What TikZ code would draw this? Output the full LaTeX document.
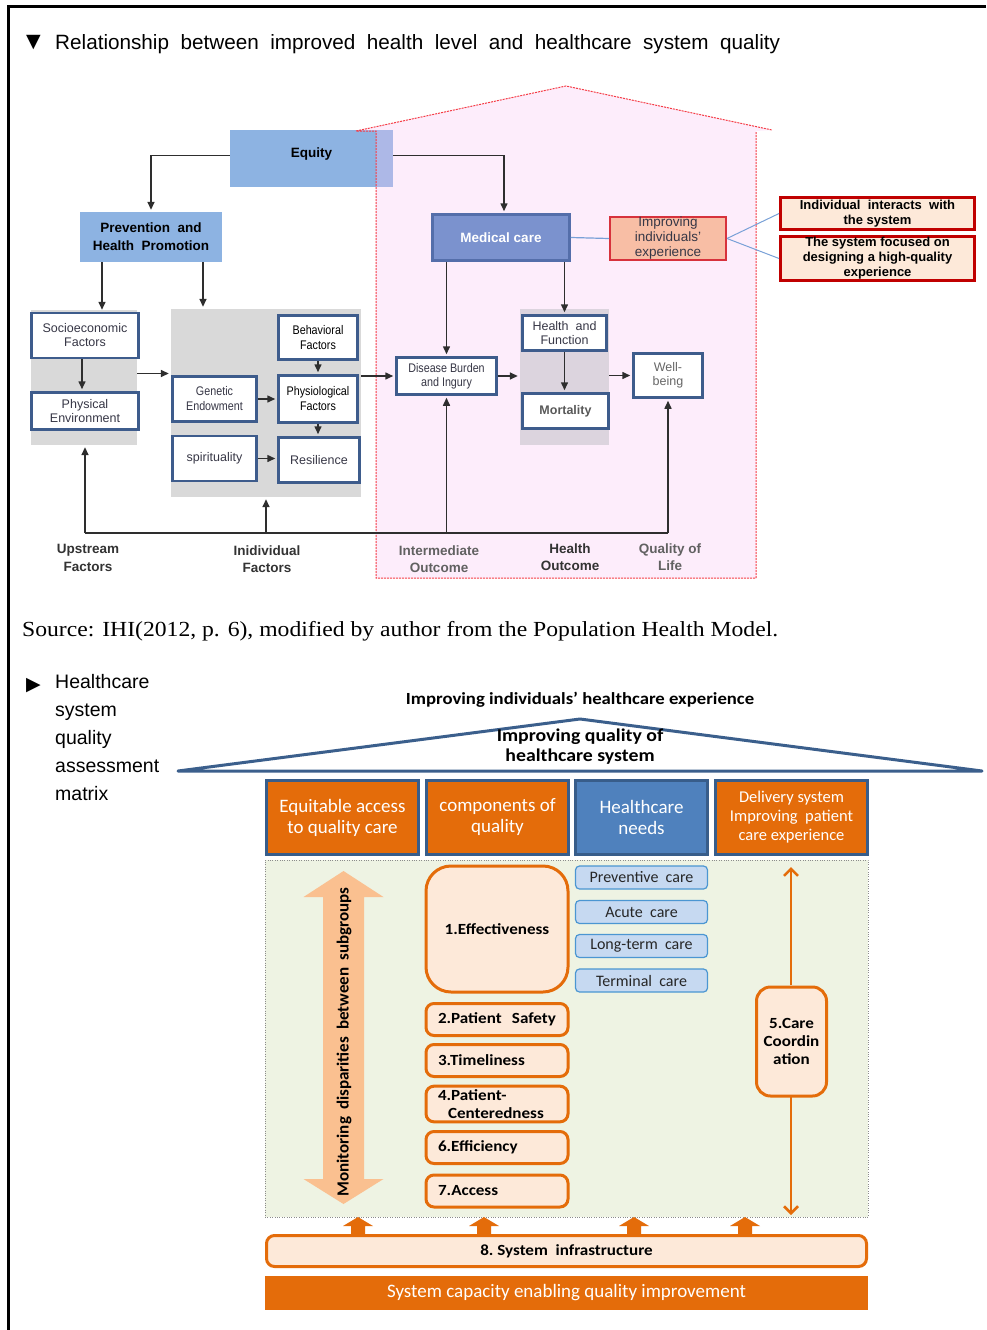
\documentclass[tikz,border=0pt]{standalone}
\usepackage{fontspec}
\setmainfont{Liberation Sans}
\newfontfamily\srcfont[FakeStretch=1.1]{Liberation Serif}
\newfontfamily\calfont{Carlito}
\newfontfamily\calwide[FakeStretch=1.1]{Carlito}
\newfontfamily\symfont{DejaVu Sans}
\newfontfamily\narrowfont[FakeStretch=0.86]{Liberation Sans}
\usetikzlibrary{arrows.meta,calc,positioning}

\definecolor{eqblue}{RGB}{141,179,226}
\definecolor{medblue}{RGB}{123,146,206}
\definecolor{medline}{RGB}{84,110,170}
\definecolor{boxline}{RGB}{62,92,140}
\definecolor{panelgray}{RGB}{217,217,217}
\definecolor{hpanelgray}{RGB}{220,212,222}
\definecolor{housepink}{RGB}{250,196,245}
\definecolor{housered}{RGB}{245,60,70}
\definecolor{salmon}{RGB}{248,190,165}
\definecolor{imprline}{RGB}{215,50,60}
\definecolor{peach}{RGB}{253,233,217}
\definecolor{darkred}{RGB}{192,0,0}
\definecolor{thinblue}{RGB}{120,160,215}
\definecolor{txtgray}{RGB}{55,55,70}
\definecolor{qorange}{RGB}{228,108,10}
\definecolor{lorange}{RGB}{250,192,144}
\definecolor{hdrblue}{RGB}{79,129,189}
\definecolor{hdrline}{RGB}{56,93,138}
\definecolor{needfill}{RGB}{198,217,241}
\definecolor{needline}{RGB}{75,150,210}
\definecolor{matgreen}{RGB}{238,243,227}
\definecolor{roofblue}{RGB}{59,95,140}

\tikzset{
  whitebox/.style={draw=boxline, line width=2.5pt, fill=white, inner sep=1pt, align=center,
    text=txtgray, font=\fontsize{12.5}{14}\selectfont},
  narrowbox/.style={whitebox, text=black, font=\narrowfont\fontsize{12.5}{15}\selectfont},
  panel/.style={fill=panelgray, inner sep=0pt},
  arr/.style={-{Triangle[length=8pt,width=7pt]}, line width=1.5pt, draw=black!82, shorten >=2pt},
  steplabel/.style={align=center, text=black!80, font=\bfseries\fontsize{13.5}{17.5}\selectfont},
  redbox/.style={fill=peach, draw=darkred, line width=3pt, minimum width=194pt, align=center,
    inner sep=1pt, font=\bfseries\fontsize{13}{15}\selectfont},
  hdrbox/.style={draw=hdrline, line width=3pt, fill=qorange, text=white, align=center,
    minimum width=152pt, minimum height=74pt, font=\calfont\fontsize{19}{21}\selectfont},
  qbox/.style={draw=qorange, fill=peach, line width=3pt, rounded corners=8pt, minimum width=142pt,
    minimum height=32pt, inner xsep=4pt, text width=118pt, align=left,
    font=\calwide\bfseries\fontsize{15.5}{18}\selectfont},
  needbox/.style={draw=needline, fill=needfill, line width=1.2pt, rounded corners=4pt,
    minimum width=132pt, minimum height=23pt, inner sep=0pt, text=black!85,
    font=\calfont\fontsize{16}{17}\selectfont},
  oarr/.style={draw=qorange, line width=2.5pt, -{Straight Barb[length=7pt,width=14pt]}}
}

\begin{document}
\begin{tikzpicture}[x=1pt,y=-1pt]
%%%%% START %%%%%
\useasboundingbox (0,0) rectangle (986,1330);
\fill[white] (0,0) rectangle (986,1330);
\draw[line width=3pt] (986,7) -- (8,7) -- (8,1330);

\node[anchor=base west, inner sep=0, font=\symfont\fontsize{19}{19}\selectfont] (tri1) at (26,48) {▼};
\node[anchor=base west, inner sep=0, font={\fontsize{20.7}{24}\selectfont\spaceskip=11.5pt}] (ttl)
  at (55,50) {Relationship between improved health level and healthcare system quality};

% top model
\node[fill=eqblue, minimum width=163pt, minimum height=57pt, text depth=12pt,
  font=\bfseries\fontsize{13.5}{15}\selectfont] (eq) at (311.5,158.5) {Equity};

\fill[housepink, fill opacity=0.3] (356,131) -- (566,86) -- (772,130) -- (756,131) -- (756,578)
  -- (376,578) -- (376,131) -- cycle;
\draw[housered, line width=1pt, dash pattern=on 2pt off 1pt]
  (356,131) -- (566,86) -- (772,130) (756,132) -- (756,578) -- (376,578) -- (376,131) -- (356,131);

\node[fill=eqblue, minimum width=142pt, minimum height=50pt, align=center,
  font=\bfseries\fontsize{13.5}{18}\selectfont] (prev) at (151,237) {Prevention\ \ and\\Health\ \ Promotion};
\node[fill=medblue, draw=medline, line width=2.5pt, minimum width=137pt, minimum height=46pt,
  text=white, font=\bfseries\fontsize{13.5}{15}\selectfont] (med) at (501,237.5) {Medical care};
\node[fill=salmon, draw=imprline, line width=2pt, minimum width=116pt, minimum height=43pt,
  inner sep=0pt, align=center, text=txtgray, font=\fontsize{13.5}{15}\selectfont] (impr)
  at (668,238.5) {Improving\\individuals’\\experience};
\node[redbox, minimum height=32pt] (ind) at (877.5,213.5) {Individual\ \ interacts\ \ with\\the system};
\node[redbox, minimum height=44pt] (sys) at (877.5,258.5) {The system focused on\\designing a high-quality\\experience};

\node[panel, minimum width=106pt, minimum height=135pt] (lp) at (84,377.5) {};
\node[panel, minimum width=190pt, minimum height=188pt] (mp) at (266,403) {};
\node[panel, fill=hpanelgray, minimum width=89pt, minimum height=136pt] (hp) at (564.5,377) {};

\node[whitebox, minimum width=107pt, minimum height=45pt] (socio) at (85,335.5) {Socioeconomic\\Factors};
\node[whitebox, minimum width=107pt, minimum height=37pt] (phys) at (85,411) {Physical\\Environment};
\node[narrowbox, minimum width=79pt, minimum height=44pt] (beh) at (318,337.5) {Behavioral\\Factors};
\node[narrowbox, text=txtgray, minimum width=84pt, minimum height=45pt] (gen) at (214.5,399) {Genetic\\Endowment};
\node[narrowbox, minimum width=79pt, minimum height=47pt] (physio) at (318,399) {Physiological\\Factors};
\node[whitebox, minimum width=84pt, minimum height=45pt] (spir) at (214.5,458.5) {spirituality};
\node[whitebox, minimum width=81pt, minimum height=45pt] (res) at (319,460) {Resilience};
\node[narrowbox, text=txtgray, minimum width=100pt, minimum height=37pt,
  font=\narrowfont\fontsize{12.5}{14}\selectfont] (dis) at (446.5,376) {Disease Burden\\and Ingury};
\node[whitebox, minimum width=84pt, minimum height=35pt] (hf) at (564.5,333) {Health\ \ and\\Function};
\node[whitebox, minimum width=86pt, minimum height=35pt, font=\bfseries\fontsize{12.5}{14}\selectfont,
  text=black!65] (mort) at (565.5,411) {Mortality};
\node[whitebox, minimum width=69pt, minimum height=44pt, text=black!60] (well) at (668,375.5) {Well-\\being};

\node[steplabel] (ups) at (88,558) {Upstream\\Factors};
\node[steplabel] (indiv) at (267,559) {Inidividual\\Factors};
\node[steplabel, text=black!62] (inter) at (439,559) {Intermediate\\Outcome};
\node[steplabel] (hout) at (570,557) {Health\\Outcome};
\node[steplabel, text=black!62] (qol) at (670,557) {Quality of\\Life};

\draw[arr] ([yshift=3pt]eq.west) -| (prev.north);
\draw[arr] ([yshift=3pt]eq.east) -| ([xshift=3pt]med.north);
\draw[arr] ([xshift=-49pt]prev.south) -- ([xshift=-49pt]prev.south |- socio.north);
\draw[arr] ([xshift=52pt]prev.south) -- ([xshift=52pt]prev.south |- mp.north);
\draw[arr] ([xshift=-3pt]socio.south) -- ([xshift=-3pt]phys.north);
\draw[arr] ([yshift=4pt]lp.east) -- ([yshift=4pt]lp.east -| mp.west);
\draw[arr] (beh.south) -- (physio.north);
\draw[arr] (physio.south) -- (physio.south |- res.north);
\draw[arr] (gen.east) -- (physio.west);
\draw[arr] (spir.east) -- (spir.east -| res.west);
\draw[arr] (mp.east |- dis.west) -- (dis.west);
\draw[arr] (med.south -| dis.north) -- (dis.north);
\draw[arr] (med.south -| hf.north) -- (hf.north);
\draw[arr] (dis.east) -- (dis.east -| hp.west);
\draw[arr] (hf.south) -- (hf.south |- mort.north);
\draw[arr] (hp.east |- well.west) -- (well.west);

\draw[thinblue, line width=1.2pt] (med.east) -- (impr.west);
\draw[thinblue, line width=1pt] (impr.east) -- (ind.west);
\draw[thinblue, line width=1pt] (impr.east) -- (sys.west);

\coordinate (fbL) at (85,533);
\coordinate (fbR) at (668,533);
\draw[line width=1.5pt, black!82] (fbL) -- (fbR);
\draw[arr] (fbL) -- (fbL |- lp.south);
\draw[arr] (mp.south |- fbL) -- (mp.south);
\draw[arr] (dis.south |- fbL) -- (dis.south);
\draw[arr] (fbR) -- (well.south);

\node[anchor=base west, inner sep=0, font=\srcfont\fontsize{21.5}{22}\selectfont] (src) at (22,636)
  {Source: IHI(2012, p. 6), modified by author from the Population Health Model.};

% matrix
\node[anchor=base west, inner sep=0, font=\symfont\fontsize{19}{19}\selectfont] (tri2) at (26,690) {▶};
\node[anchor=north west, inner sep=0, align=left, font=\fontsize{19.5}{28}\selectfont] (mtx)
  at (55,674) {Healthcare\\system\\quality\\assessment\\matrix};

\node[font=\calwide\bfseries\fontsize{17}{18}\selectfont] (topl) at (580,700)
  {Improving individuals’ healthcare experience};
\draw[roofblue, line width=3pt, line join=round] (178,771) -- (580,719) -- (982,771) -- cycle;
\node[align=center, font=\calwide\bfseries\fontsize{18}{20}\selectfont] (roofl) at (580,747)
  {Improving quality of\\healthcare system};

\node[hdrbox] (h1) at (342.5,817.5) {Equitable access\\to quality care};
\node[hdrbox, minimum width=142pt] (h2) at (497.5,817.5) {components of\\quality};
\node[hdrbox, fill=hdrblue, minimum width=132pt] (h3) at (641.5,817.5) {Healthcare\\needs};
\node[hdrbox, font=\calfont\fontsize{16.5}{19}\selectfont] (h4) at (791.5,817.5)
  {Delivery system\\Improving\ \ patient\\care experience};

\node[draw=black!45, dotted, fill=matgreen, minimum width=603pt, minimum height=357pt,
  inner sep=0pt] (mat) at (566.5,1038.5) {};

\fill[lorange] (343.5,871) -- (383.5,897) -- (364,897) -- (364,1179) -- (383.5,1179) -- (343.5,1204)
  -- (303.5,1179) -- (323,1179) -- (323,897) -- (303.5,897) -- cycle;
\node[rotate=90, font={\calfont\bfseries\fontsize{17}{17}\selectfont\spaceskip=7pt}] (mon)
  at (344,1042) {Monitoring disparities between subgroups};

\node[qbox, minimum height=126pt, rounded corners=25pt, align=center] (q1) at (497,929) {1.Effectiveness};
\node[qbox] (q2) at (497,1019.5) {2.Patient\ \ Safety};
\node[qbox] (q3) at (497,1060.5) {3.Timeliness};
\node[qbox] (q4) at (497,1104) {4.Patient-\\\hspace*{10pt}Centeredness};
\node[qbox] (q6) at (497,1147.5) {6.Efficiency};
\node[qbox] (q7) at (497,1191) {7.Access};

\node[needbox] (n1) at (641.5,877.5) {Preventive\ \ care};
\node[needbox] (n2) at (641.5,912) {Acute\ \ care};
\node[needbox] (n3) at (641.5,946) {Long-term\ \ care};
\node[needbox] (n4) at (641.5,980.5) {Terminal\ \ care};

\coordinate (ccT) at (791,867);
\coordinate (ccB) at (791,1215);
\draw[oarr] (791,985) -- (ccT);
\draw[oarr] (791,1097) -- (ccB);
\node[qbox, text width=, minimum width=70pt, minimum height=109pt, rounded corners=14pt,
  align=center] (cc) at (791.5,1041.5) {5.Care\\Coordin\\ation};

\node[draw=qorange, fill=peach, line width=3pt, rounded corners=8pt, minimum width=600pt,
  minimum height=31pt, font=\calwide\bfseries\fontsize{15.5}{17}\selectfont] (infra) at (566.5,1251)
  {8.\ System\ \ infrastructure};
\foreach \ux in {358,484,634,745}
  \fill[qorange] (\ux-7,1234) -- (\ux-7,1226) -- (\ux-15,1226) -- (\ux,1217) -- (\ux+15,1226)
    -- (\ux+7,1226) -- (\ux+7,1234) -- cycle;
\node[fill=qorange, minimum width=603pt, minimum height=34pt, text=white,
  font=\calfont\fontsize{19}{20}\selectfont] (cap) at (566.5,1293) {System capacity enabling quality improvement};

%%%%% END %%%%%
\end{tikzpicture}
\end{document}
